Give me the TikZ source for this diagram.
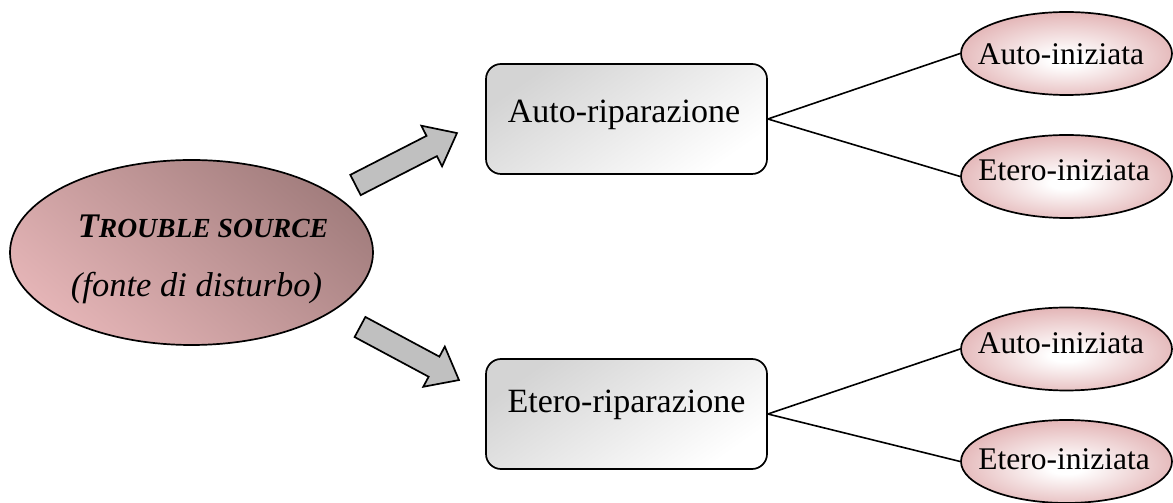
\documentclass[tikz,border=0pt]{standalone}
\usepackage{fontspec}
\setmainfont{Liberation Serif}
\usetikzlibrary{shapes.geometric}
\definecolor{srcdark}{RGB}{163,126,126}
\definecolor{srclight}{RGB}{228,180,182}
\definecolor{pk}{RGB}{214,146,148}
\definecolor{boxgray}{RGB}{212,212,212}
\definecolor{arrgray}{RGB}{192,192,192}
\pgfdeclareradialshading{pinkglow}{\pgfpoint{0bp}{-4bp}}{color(0bp)=(white); color(4bp)=(white); color(38bp)=(pk); color(50bp)=(pk)}
\tikzset{
  src/.style={ellipse, draw, line width=1.7pt, minimum width=363pt, minimum height=185pt,
    top color=srcdark, bottom color=srclight, shading angle=-40},
  repbox/.style={rectangle, rounded corners=15pt, draw, line width=1.7pt,
    minimum width=281pt, minimum height=110pt, top color=boxgray, bottom color=white, shading angle=35},
  leaf/.style={ellipse, draw, line width=1.7pt, minimum width=211pt, minimum height=83pt, shading=pinkglow},
  boxtxt/.style={font=\fontsize{34}{40}\selectfont, anchor=base, inner sep=0pt},
  leaftxt/.style={font=\fontsize{31.5}{38}\selectfont, anchor=base, inner sep=0pt},
  srctxt/.style={anchor=base, inner sep=0pt},
  link/.style={line width=1.6pt},
  blk/.style={draw, line width=1.7pt, fill=arrgray, line join=miter}
}
\begin{document}
\begin{tikzpicture}[x=1pt, y=1pt]
\useasboundingbox (0,0) rectangle (1173,503);

% source ellipse
\node[src] (src) at (191.5,250.5) {};
\node[srctxt] (srcA) at (203,265) {\fontsize{34.5}{40}\selectfont\bfseries\itshape T{\fontsize{27.6}{32}\selectfont ROUBLE SOURCE}};
\node[srctxt] (srcB) at (196.5,206) {\fontsize{34.5}{40}\selectfont\itshape (fonte di disturbo)};

% boxes
\node[repbox] (auto) at (626.5,384) {};
\node[boxtxt] (autot) at (624,380) {Auto-riparazione};
\node[repbox] (etero) at (626.5,89) {};
\node[boxtxt] (eterot) at (626.5,90) {Etero-riparazione};

% leaves
\node[leaf] (l1) at (1066.5,449.5) {};
\node[leaftxt] (l1t) at (1061,438) {Auto-iniziata};
\node[leaf] (l2) at (1066.5,326.5) {};
\node[leaftxt] (l2t) at (1064,322) {Etero-iniziata};
\node[leaf] (l3) at (1066.5,154) {};
\node[leaftxt] (l3t) at (1061,149) {Auto-iniziata};
\node[leaf] (l4) at (1066.5,41.5) {};
\node[leaftxt] (l4t) at (1064,33) {Etero-iniziata};

% connectors
\draw[link] (auto.east) -- (l1.west);
\draw[link] (auto.east) -- (l2.west);
\draw[link] (etero.east) -- (l3.west);
\draw[link] (etero.east) -- (l4.west);

% block arrows
\begin{scope}[shift={(355.5,318)}, rotate=27.1]
  \draw[blk] (0,-11.4) -- (85.6,-11.4) -- (85.6,-22.8) -- (114,0) -- (85.6,22.8) -- (85.6,11.4) -- (0,11.4) -- cycle;
\end{scope}
\begin{scope}[shift={(360,176)}, rotate=-28.2]
  \draw[blk] (0,-11.4) -- (84,-11.4) -- (84,-22.8) -- (112.3,0) -- (84,22.8) -- (84,11.4) -- (0,11.4) -- cycle;
\end{scope}
\end{tikzpicture}
\end{document}
